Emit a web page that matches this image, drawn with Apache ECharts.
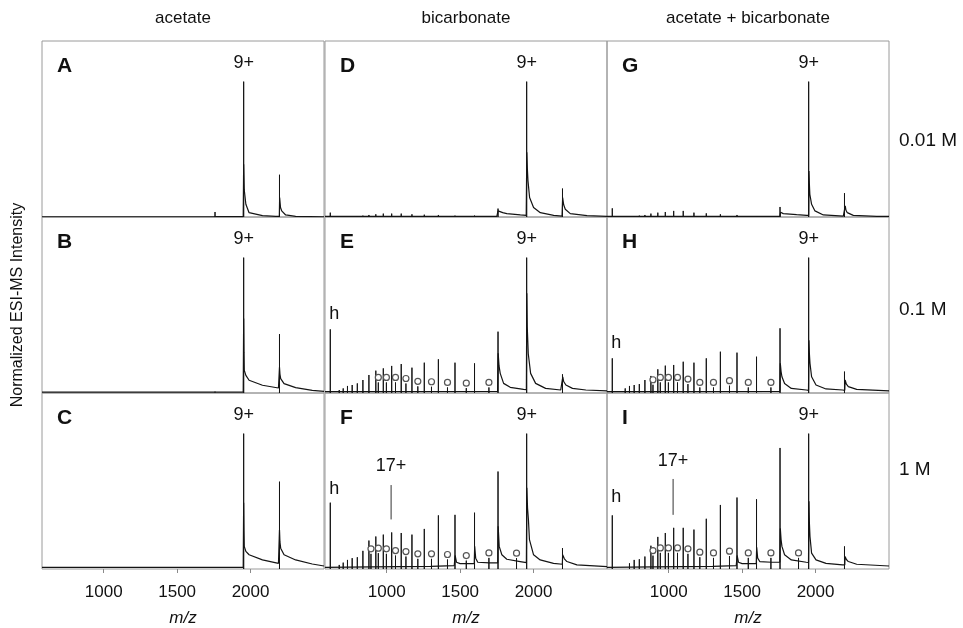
<!DOCTYPE html>
<html>
<head>
<meta charset="utf-8">
<script src="https://cdn.jsdelivr.net/npm/echarts@6/dist/echarts.min.js"></script>
<style>
  html, body { margin: 0; padding: 0; background: #fff; }
  #chart { width: 963px; height: 628px; }
</style>
</head>
<body>
<div id="chart"></div>
<script>
// ---- data -------------------------------------------------------------
// m/z of the holo-protein charge ladder, 8+ up to 28+
const holoMz = [2197, 1953, 1758, 1598, 1465, 1352, 1256, 1172, 1099, 1034, 977, 926, 879, 838, 800, 765, 733, 704, 677, 652, 628];
// m/z of the apo-protein ions, 9+ up to 19+ (open circles)
const apoMz = [1884, 1696, 1542, 1414, 1305, 1212, 1131, 1060, 998, 943, 893];
// free heme ion
const hemeMz = 616;

const panelLetters = ['A', 'B', 'C', 'D', 'E', 'F', 'G', 'H', 'I'];
const saltNames = ['acetate', 'bicarbonate', 'acetate + bicarbonate'];
const concLabels = ['0.01 M', '0.1 M', '1 M'];
const xTicks = [1000, 1500, 2000];

// ladder peak heights (normalized, same order as holoMz)
const holoA = [0.312, 1.0, 0.037];
const holoB = [0.435, 1.0, 0.012];
const holoC = [0.645, 1.0];
const holoD = [0.21, 1.0, 0.062, 0.012, 0.012, 0.015, 0.017, 0.02, 0.025, 0.025, 0.025, 0.02, 0.015, 0.012, 0.007];
const holoE = [0.138, 1.0, 0.453, 0.219, 0.224, 0.249, 0.224, 0.187, 0.214, 0.2, 0.182, 0.165, 0.133, 0.096, 0.071, 0.059, 0.052, 0.034, 0.022];
const holoF = [0.154, 1.0, 0.72, 0.416, 0.40, 0.396, 0.296, 0.254, 0.266, 0.27, 0.254, 0.24, 0.21, 0.134, 0.087, 0.08, 0.067, 0.047, 0.03];
const holoG = [0.176, 1.0, 0.074, 0.007, 0.015, 0.02, 0.027, 0.032, 0.045, 0.045, 0.037, 0.032, 0.025, 0.015, 0.012, 0.007];
const holoH = [0.158, 1.0, 0.478, 0.268, 0.298, 0.305, 0.256, 0.224, 0.231, 0.207, 0.202, 0.175, 0.126, 0.096, 0.066, 0.059, 0.052, 0.034];
const holoI = [0.167, 1.0, 0.894, 0.515, 0.528, 0.473, 0.371, 0.291, 0.304, 0.304, 0.266, 0.237, 0.172, 0.092, 0.072, 0.067, 0.042];

// heme peak height per panel
const hemeHeights = [0, 0, 0, 0.032, 0.47, 0.49, 0.064, 0.256, 0.396];

// apo peak heights (same order as apoMz; null = not marked)
const apoE = [null, 0.041, 0.036, 0.041, 0.046, 0.049, 0.07, 0.078, 0.078, 0.078, null];
const apoF = [0.08, 0.082, 0.062, 0.07, 0.075, 0.075, 0.092, 0.099, 0.112, 0.117, 0.112];
const apoH = [null, 0.041, 0.041, 0.054, 0.041, 0.041, 0.066, 0.078, 0.078, 0.078, 0.061];
const apoI = [0.082, 0.082, 0.082, 0.095, 0.082, 0.087, 0.112, 0.119, 0.119, 0.119, 0.099];

// baseline and adduct tails [m/z, intensity]
const profileA = [[580, 0.002], [1748, 0.002], [1757, 0.01], [1762, 0.003], [1950, 0.003], [1953, 0.39], [1957, 0.2], [1968, 0.094], [1990, 0.032], [2081, 0.01], [2171, 0.005], [2196, 0.005], [2198, 0.144], [2204, 0.07], [2212, 0.045], [2239, 0.015], [2307, 0.005], [2500, 0.002]];
const profileB = [[580, 0.007], [1750, 0.007], [1757, 0.012], [1762, 0.007], [1950, 0.007], [1953, 0.55], [1955, 0.3], [1957, 0.168], [1968, 0.13], [1990, 0.094], [2081, 0.057], [2190, 0.037], [2196, 0.037], [2197, 0.19], [2200, 0.14], [2205, 0.106], [2228, 0.069], [2307, 0.04], [2420, 0.02], [2500, 0.012]];
const profileC = [[580, 0.012], [1950, 0.012], [1953, 0.49], [1955, 0.28], [1957, 0.167], [1968, 0.13], [1990, 0.105], [2081, 0.067], [2190, 0.042], [2196, 0.042], [2197, 0.29], [2200, 0.2], [2205, 0.154], [2228, 0.105], [2307, 0.067], [2420, 0.037], [2500, 0.022]];
const profileD = [[580, 0.005], [1750, 0.005], [1758, 0.045], [1766, 0.045], [1790, 0.032], [1818, 0.025], [1910, 0.015], [1950, 0.012], [1954, 0.478], [1958, 0.35], [1962, 0.267], [1973, 0.144], [2000, 0.07], [2046, 0.032], [2137, 0.012], [2194, 0.007], [2198, 0.144], [2205, 0.09], [2216, 0.057], [2250, 0.025], [2364, 0.01], [2500, 0.005]];
const profileE = [[580, 0.01], [1755, 0.012], [1759, 0.293], [1765, 0.2], [1773, 0.145], [1796, 0.071], [1841, 0.042], [1932, 0.027], [1951, 0.025], [1954, 0.736], [1957, 0.49], [1964, 0.29], [1980, 0.145], [2014, 0.071], [2082, 0.034], [2185, 0.022], [2197, 0.02], [2199, 0.12], [2205, 0.085], [2220, 0.059], [2265, 0.034], [2356, 0.022], [2500, 0.015]];
const profileF = [[580, 0.012], [900, 0.015], [1300, 0.02], [1460, 0.025], [1466, 0.1], [1475, 0.05], [1500, 0.04], [1596, 0.04], [1599, 0.167], [1606, 0.08], [1620, 0.05], [1700, 0.045], [1756, 0.045], [1759, 0.316], [1766, 0.167], [1784, 0.105], [1818, 0.072], [1909, 0.055], [1951, 0.047], [1954, 0.60], [1959, 0.45], [1965, 0.366], [1972, 0.217], [2000, 0.105], [2045, 0.067], [2136, 0.042], [2196, 0.035], [2198, 0.105], [2210, 0.075], [2227, 0.055], [2295, 0.03], [2500, 0.017]];
const profileG = [[580, 0.005], [1758, 0.005], [1762, 0.035], [1780, 0.025], [1871, 0.017], [1939, 0.012], [1953, 0.012], [1955, 0.34], [1958, 0.24], [1961, 0.168], [1973, 0.094], [1996, 0.045], [2053, 0.015], [2189, 0.007], [2200, 0.007], [2202, 0.082], [2207, 0.05], [2216, 0.032], [2257, 0.012], [2416, 0.005], [2500, 0.004]];
const profileH = [[580, 0.01], [1757, 0.012], [1760, 0.22], [1765, 0.16], [1771, 0.12], [1789, 0.07], [1835, 0.034], [1937, 0.022], [1952, 0.02], [1955, 0.39], [1958, 0.29], [1962, 0.22], [1973, 0.12], [2003, 0.059], [2071, 0.03], [2184, 0.022], [2199, 0.02], [2201, 0.096], [2210, 0.065], [2223, 0.047], [2280, 0.027], [2500, 0.015]];
const profileI = [[580, 0.012], [900, 0.015], [1300, 0.02], [1460, 0.025], [1466, 0.1], [1475, 0.05], [1500, 0.04], [1596, 0.04], [1599, 0.16], [1606, 0.08], [1620, 0.055], [1700, 0.05], [1757, 0.05], [1760, 0.30], [1765, 0.22], [1771, 0.167], [1789, 0.105], [1835, 0.067], [1937, 0.05], [1952, 0.048], [1955, 0.50], [1958, 0.34], [1962, 0.24], [1973, 0.117], [2003, 0.067], [2071, 0.042], [2184, 0.03], [2199, 0.03], [2201, 0.092], [2210, 0.07], [2223, 0.055], [2280, 0.035], [2500, 0.022]];

// "h" label heights and "17+" marker (text height, line bottom, line top)
const hLabelY = [null, null, null, null, 0.58, 0.59, null, 0.367, 0.528];
const z17Mz = 1030;
const z17F = [0.76, 0.366, 0.62];
const z17I = [0.80, 0.40, 0.665];

// ---- layout -----------------------------------------------------------
const colLeft = [42, 325, 607];
const colWidth = 282;
const rowTop = [41, 217, 393];
const rowHeight = 176;
const FONT = '"Liberation Sans", Arial, Helvetica, sans-serif';
const INK = '#141414';
const TEXT = '#111';

const holo = [holoA, holoB, holoC, holoD, holoE, holoF, holoG, holoH, holoI];
const profiles = [profileA, profileB, profileC, profileD, profileE, profileF, profileG, profileH, profileI];
const apo = [null, null, null, null, apoE, apoF, null, apoH, apoI];
const z17 = [null, null, null, null, null, z17F, null, null, z17I];

function sticks(mzList, heights) {
  const out = [];
  heights.forEach((h, i) => {
    if (h == null || h <= 0) return;
    const x = mzList[i];
    out.push([x, 0], [x, h], [x, 0], [x, '-']);
  });
  return out;
}

const grids = [], xAxes = [], yAxes = [], series = [], graphics = [];

for (let p = 0; p < 9; p++) {
  const col = Math.floor(p / 3), row = p % 3;
  grids.push({
    left: colLeft[col], top: rowTop[row], width: colWidth, height: rowHeight,
    show: true, borderColor: '#9a9a9a', borderWidth: 1, backgroundColor: 'transparent',
    containLabel: false, outerBoundsMode: 'none'
  });
  const bottom = row === 2;
  xAxes.push({
    type: 'value', gridIndex: p, min: 580, max: 2500,
    show: bottom,
    axisLine: { show: false },
    splitLine: { show: false },
    axisTick: { show: bottom, customValues: xTicks, length: 4, inside: false, lineStyle: { color: '#8a8a8a' } },
    axisLabel: {
      show: bottom, customValues: xTicks, margin: 15, formatter: v => String(v),
      fontFamily: FONT, fontSize: 17, color: TEXT
    },
    name: bottom ? 'm/z' : '', nameLocation: 'middle', nameGap: 41,
    nameTextStyle: { fontFamily: FONT, fontSize: 17, fontStyle: 'italic', color: TEXT }
  });
  const yName = p === 1;
  yAxes.push({
    type: 'value', gridIndex: p, min: 0, max: 1.3,
    show: yName,
    axisLine: { show: false }, axisTick: { show: false }, axisLabel: { show: false }, splitLine: { show: false },
    name: yName ? 'Normalized ESI-MS Intensity' : '', nameLocation: 'middle', nameGap: 16,
    nameTextStyle: { fontFamily: FONT, fontSize: 16, color: TEXT }
  });

  // continuous baseline with adduct tails
  series.push({
    type: 'line', xAxisIndex: p, yAxisIndex: p, data: profiles[p],
    symbol: 'none', lineStyle: { color: INK, width: 1.2 }, z: 3, silent: true
  });

  // peak sticks: holo ladder, heme, apo ions
  let stickData = sticks(holoMz, holo[p]);
  if (hemeHeights[p] > 0) stickData = stickData.concat(sticks([hemeMz], [hemeHeights[p]]));
  if (apo[p]) stickData = stickData.concat(sticks(apoMz, apo[p]));
  series.push({
    type: 'line', xAxisIndex: p, yAxisIndex: p, data: stickData, connectNulls: false,
    symbol: 'none', lineStyle: { color: INK, width: 1 }, z: 4, silent: true
  });

  // open circles above the apo ions
  if (apo[p]) {
    const pts = [];
    apo[p].forEach((h, i) => { if (h != null) pts.push([apoMz[i], h]); });
    series.push({
      type: 'scatter', xAxisIndex: p, yAxisIndex: p, data: pts,
      symbol: 'circle', symbolSize: 6, symbolOffset: [0, -5],
      itemStyle: { color: '#fff', borderColor: '#555', borderWidth: 1.2, opacity: 1 }, z: 6, silent: true
    });
  }

  // peak annotations
  const notes = [{ value: [holoMz[1], holo[p][1]], label: { formatter: '9+', position: 'top', distance: 10 } }];
  if (hLabelY[p] != null) notes.push({ value: [hemeMz, hLabelY[p]], label: { formatter: 'h', position: 'right', distance: -1 } });
  if (z17[p]) {
    notes.push({ value: [z17Mz, z17[p][0]], label: { formatter: '17+', position: 'inside' } });
    series.push({
      type: 'line', xAxisIndex: p, yAxisIndex: p, data: [[z17Mz, z17[p][1]], [z17Mz, z17[p][2]]],
      symbol: 'none', lineStyle: { color: '#333', width: 1 }, z: 5, silent: true
    });
  }
  series.push({
    type: 'scatter', xAxisIndex: p, yAxisIndex: p, data: notes, symbolSize: 0, z: 7, silent: true,
    itemStyle: { opacity: 1 },
    label: { show: true, fontFamily: FONT, fontSize: 18, color: TEXT, opacity: 1 }
  });

  // panel letter
  graphics.push({
    type: 'text', x: colLeft[col] + 15, y: rowTop[row] + 25,
    style: { text: panelLetters[p], font: 'bold 21px ' + FONT, fill: '#111', align: 'left', verticalAlign: 'middle', textAlign: 'left', textVerticalAlign: 'middle' }
  });
}

saltNames.forEach((t, c) => graphics.push({
  type: 'text', x: colLeft[c] + colWidth / 2, y: 18,
  style: { text: t, font: '17px ' + FONT, fill: TEXT, align: 'center', verticalAlign: 'middle', textAlign: 'center', textVerticalAlign: 'middle' }
}));
const concY = [141, 310, 470];
concLabels.forEach((t, r) => graphics.push({
  type: 'text', x: 899, y: concY[r],
  style: { text: t, font: '19px ' + FONT, fill: TEXT, align: 'left', verticalAlign: 'middle', textAlign: 'left', textVerticalAlign: 'middle' }
}));

const chart = echarts.init(document.getElementById('chart'), null, { renderer: 'canvas' });
chart.setOption({
  animation: false,
  backgroundColor: '#fff',
  grid: grids, xAxis: xAxes, yAxis: yAxes, series: series,
  graphic: graphics
});
</script>
</body>
</html>
